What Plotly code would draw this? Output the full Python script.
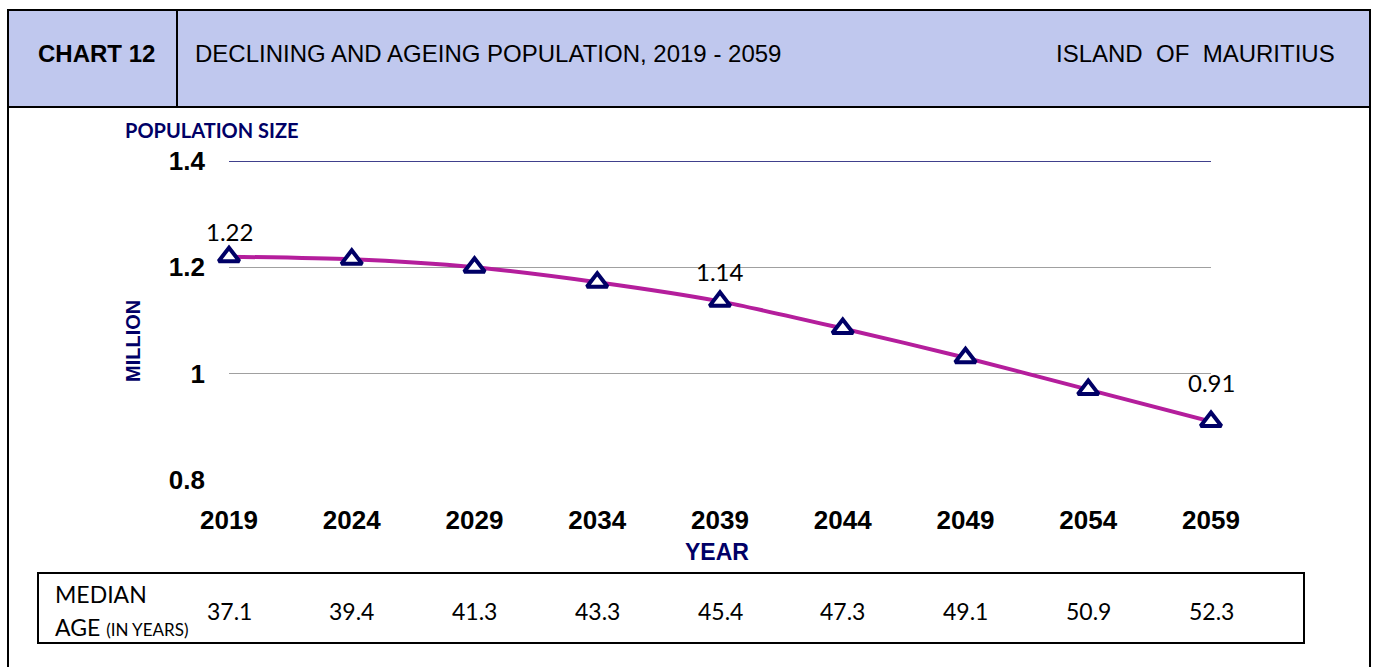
import plotly.graph_objects as go

years = [2019, 2024, 2029, 2034, 2039, 2044, 2049, 2054, 2059]
population = [1.22, 1.215, 1.20, 1.172, 1.136, 1.085, 1.03, 0.97, 0.91]
median_age = [37.1, 39.4, 41.3, 43.3, 45.4, 47.3, 49.1, 50.9, 52.3]
label_years = [2019, 2039, 2059]
label_values = [1.22, 1.136, 0.91]
label_texts = ["1.22", "1.14", "0.91"]
label_shift = [25, 30, 39]
y_ticks = [0.8, 1.0, 1.2, 1.4]
y_ticktext = ["0.8", "1", "1.2", "1.4"]

W, H = 1380, 667
def px(x): return x / W
def py(y): return 1 - y / H

NAVY = "#000066"
fig = go.Figure()
fig.add_trace(go.Scatter(
    x=years, y=population, mode="lines+markers",
    line=dict(color="#B41E9C", width=4, shape="spline", smoothing=0.7),
    marker=dict(symbol="triangle-up", size=18, color="white",
                line=dict(color=NAVY, width=4)),
    cliponaxis=False, hoverinfo="x+y", showlegend=False))

annotations = []
for x, v, t, s in zip(label_years, label_values, label_texts, label_shift):
    annotations.append(dict(x=x, y=v, xref="x", yref="y", text=t, showarrow=False,
                            xanchor="center", yanchor="middle",
                            yshift=s, font=dict(family="Lato", size=24, color="black")))
for x, a in zip(years, median_age):
    annotations.append(dict(x=x, y=py(611), xref="x", yref="paper", text=f"{a:.1f}",
                            xanchor="center", yanchor="middle",
                            showarrow=False, font=dict(family="Lato", size=23, color="black")))

def note(x, y, text, font, xanchor="center", **kw):
    return dict(x=px(x), y=py(y), xref="paper", yref="paper", text=text, showarrow=False,
                xanchor=xanchor, yanchor="middle", font=font, **kw)

hdr_font = dict(family="Liberation Sans", size=24, color="black")
annotations += [
    note(96, 53, "<b>CHART 12</b>", hdr_font),
    note(193, 53, "DECLINING AND AGEING POPULATION, 2019 - 2059", hdr_font, xanchor="left"),
    note(1337, 53, "ISLAND&nbsp;&nbsp;OF&nbsp;&nbsp;MAURITIUS", hdr_font, xanchor="right"),
    note(123, 130, "<b>POPULATION SIZE</b>", dict(family="Lato", size=20, color=NAVY),
         xanchor="left"),
    note(133, 341, "<b>MILLION</b>", dict(family="Liberation Sans", size=20, color=NAVY),
         textangle=-90),
    note(717, 552, "<b>YEAR</b>", dict(family="Liberation Sans", size=23, color=NAVY)),
    note(53, 594, "MEDIAN", dict(family="Lato", size=23, color="black"), xanchor="left"),
    note(53, 627, "AGE <span style='font-size:17px'>(IN YEARS)</span>",
         dict(family="Lato", size=23, color="black"), xanchor="left"),
]

shapes = [
    dict(type="rect", xref="paper", yref="paper", x0=px(8), x1=px(1370), y0=py(700), y1=py(10),
         line=dict(color="black", width=2), fillcolor="rgba(0,0,0,0)", layer="below"),
    dict(type="rect", xref="paper", yref="paper", x0=px(8), x1=px(1370), y0=py(107), y1=py(10),
         line=dict(color="black", width=2), fillcolor="#C0C8EE", layer="below"),
    dict(type="line", xref="paper", yref="paper", x0=px(177), x1=px(177), y0=py(107), y1=py(10),
         line=dict(color="black", width=2)),
    dict(type="rect", xref="paper", yref="paper", x0=px(38), x1=px(1304), y0=py(643), y1=py(573),
         line=dict(color="black", width=2), fillcolor="rgba(0,0,0,0)"),
    dict(type="line", xref="paper", yref="y", x0=px(229), x1=px(1211), y0=1.4, y1=1.4,
         line=dict(color=NAVY, width=1.5), layer="above"),
]

tick_font = dict(family="Liberation Sans", size=26, color="black", weight="bold")
fig.update_layout(
    template="none",
    width=W, height=H, margin=dict(l=0, r=0, t=0, b=0, autoexpand=False),
    paper_bgcolor="white", plot_bgcolor="white",
    xaxis=dict(domain=[px(229), px(1211)], range=[2019, 2059], tickvals=years,
               showgrid=False, zeroline=False, showline=False, ticks="", automargin=False,
               tickfont=tick_font, ticklabelstandoff=22),
    yaxis=dict(domain=[py(480), py(161)], range=[0.8, 1.4], tickvals=y_ticks,
               ticktext=y_ticktext, showgrid=True, gridcolor="#A0A0A0", gridwidth=1.3,
               zeroline=False, showline=False, ticks="", tickfont=tick_font, automargin=False,
               ticklabelstandoff=23),
    annotations=annotations, shapes=shapes,
)
fig.write_html("out.html", config={"displayModeBar": False},
               post_script="document.body.style.margin='0';document.body.style.overflow='hidden';")
